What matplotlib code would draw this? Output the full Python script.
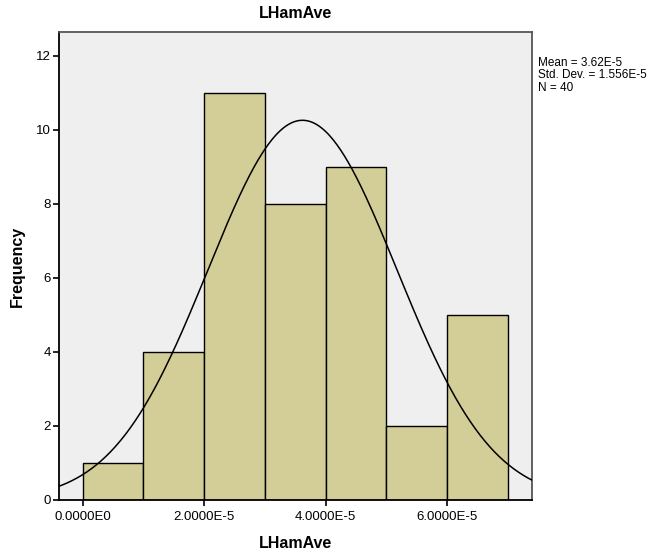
import numpy as np
import matplotlib.pyplot as plt

plt.rcParams['font.family'] = ['Liberation Sans', 'DejaVu Sans']

# Histogram bins and counts for LHamAve
bin_edges = [0.0, 1e-5, 2e-5, 3e-5, 4e-5, 5e-5, 6e-5, 7e-5]
counts = [1, 4, 11, 8, 9, 2, 5]
mean = 3.62e-5
std = 1.556e-5
n = 40
tick_values = [0.0, 2e-5, 4e-5, 6e-5]
tick_labels = ['0.0000E0', '2.0000E-5', '4.0000E-5', '6.0000E-5']

fig = plt.figure(figsize=(6.57, 5.58), dpi=100)
ax = fig.add_axes([59 / 657, 1 - 500 / 558, (532 - 59) / 657, (500 - 32) / 558])
ax.set_facecolor('#EFEFEF')

widths = np.diff(bin_edges)
ax.bar(bin_edges[:-1], counts, width=widths, align='edge',
       color='#D3CE97', edgecolor='black', linewidth=1.0, zorder=2)

# Normal curve scaled to counts
bw = widths[0]
x = np.linspace(-0.5e-5, 7.5e-5, 400)
y = n * bw / (std * np.sqrt(2 * np.pi)) * np.exp(-0.5 * ((x - mean) / std) ** 2)
ax.plot(x, y, color='black', linewidth=1.1, zorder=3)

ax.set_xlim(-0.39e-5, 7.40e-5)
ax.set_ylim(0, 12.64)
ax.set_xticks(tick_values)
ax.set_xticklabels(tick_labels)
ax.set_yticks([0, 2, 4, 6, 8, 10, 12])
ax.tick_params(direction='out', length=4, width=1.2, labelsize=9.5, pad=2, colors='black')
ax.tick_params(axis='x', pad=4)

for side in ['left', 'bottom']:
    ax.spines[side].set_color('black')
    ax.spines[side].set_linewidth(1.3)
for side in ['top', 'right']:
    ax.spines[side].set_color('#555555')
    ax.spines[side].set_linewidth(1.3)

ax.set_title('LHamAve', fontsize=11.5, fontweight='bold', pad=10)
ax.set_xlabel('LHamAve', fontsize=11.5, fontweight='bold', labelpad=9)
ax.set_ylabel('Frequency', fontsize=11.5, fontweight='bold', labelpad=8)

fig.text(538 / 657, 1 - 57 / 558,
         'Mean = 3.62E-5\nStd. Dev. = 1.556E-5\nN = 40',
         fontsize=8.5, va='top', ha='left', linespacing=1.05)

fig.savefig('out.png', dpi=100)
